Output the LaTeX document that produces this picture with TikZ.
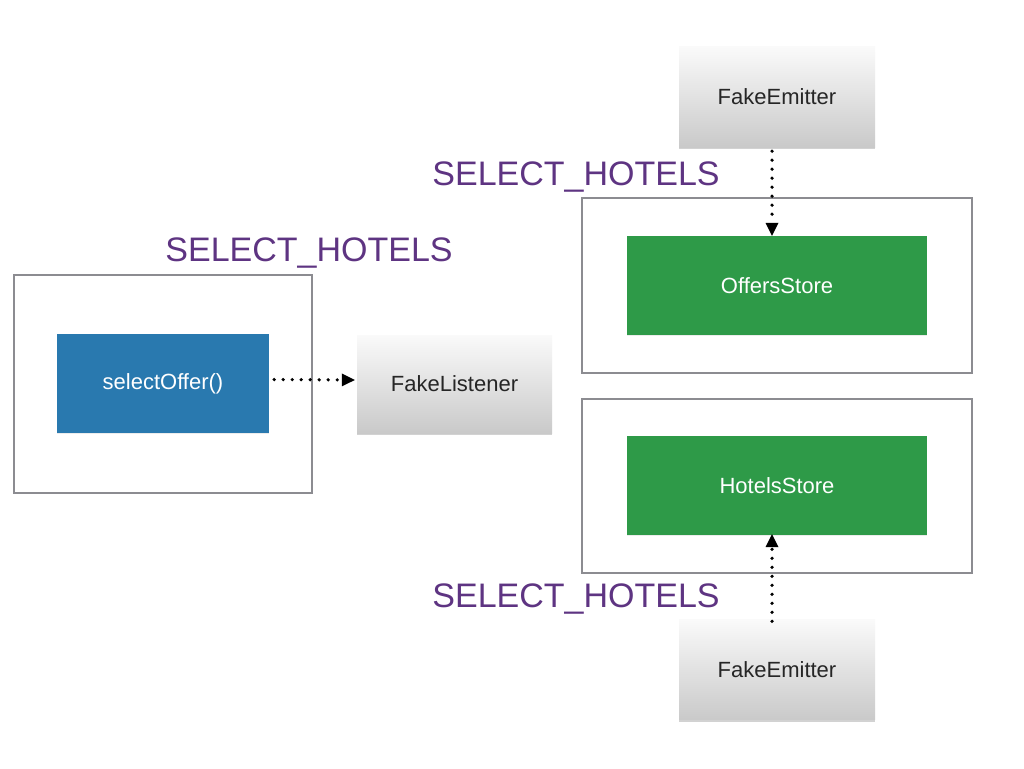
\documentclass[tikz,border=0pt]{standalone}
\usepackage{fontspec}
\setmainfont{Liberation Sans}
\usetikzlibrary{arrows.meta,shadows}
\definecolor{lblpurple}{RGB}{94,52,130}
\definecolor{storegreen}{RGB}{46,154,72}
\definecolor{actblue}{RGB}{41,121,175}
\definecolor{framegray}{RGB}{140,140,145}
\begin{document}
\begin{tikzpicture}[x=1pt,y=-1pt,
  fakebox/.style={minimum width=196pt,minimum height=100pt,inner sep=0pt,
    top color=gray!4,bottom color=gray!42,
    drop shadow={opacity=0.35,shadow xshift=0pt,shadow yshift=-2pt},
    font=\fontsize{22}{26}\selectfont,text=black!85},
  storebox/.style={minimum width=300pt,minimum height=99pt,inner sep=0pt,
    fill=storegreen,text=white,font=\fontsize{22}{26}\selectfont,
    drop shadow={opacity=0.15,shadow xshift=0pt,shadow yshift=-1pt}},
  framebox/.style={draw=framegray,line width=1.6pt,inner sep=0pt},
  lbl/.style={text=lblpurple,font=\fontsize{34}{40}\selectfont,inner sep=0pt},
  flow/.style={line width=3.6pt,dash pattern=on 0pt off 9pt,line cap=round,
    -{Triangle[width=13pt,length=13pt,line width=0pt]}}
]
\useasboundingbox[fill=white] (0,0) rectangle (1024,768);

% frames
\node[framebox,minimum width=390pt,minimum height=175pt] (f1) at (777,285.5) {};
\node[framebox,minimum width=390pt,minimum height=174pt] (f2) at (777,486) {};
\node[framebox,minimum width=298pt,minimum height=218pt] (f3) at (163,384) {};

% boxes
\node[fakebox] (em1) at (777,97) {FakeEmitter};
\node[fakebox] (em2) at (777,669.5) {FakeEmitter};
\node[fakebox,minimum width=195pt,minimum height=98pt] (lis) at (454.5,384) {FakeListener};
\node[storebox] (offers) at (777,285.5) {OffersStore};
\node[storebox] (hotels) at (777,485.5) {HotelsStore};
\node[storebox,fill=actblue,minimum width=212pt] (sel) at (163,383.5) {selectOffer()};

% labels
\node[lbl] (l1) at (576,177) {SELECT\_HOTELS};
\node[lbl] (l2) at (309,253) {SELECT\_HOTELS};
\node[lbl] (l3) at (576,599) {SELECT\_HOTELS};

% connectors
\draw[flow] ([xshift=-5pt,yshift=-4pt]em1.south) -- ([xshift=-5pt]offers.north);
\draw[flow] ([xshift=-5pt,yshift=-2pt]em2.north) -- ([xshift=-5pt,yshift=1pt]hotels.south);
\draw[flow] ([xshift=5pt,yshift=4pt]sel.east) -- ([xshift=-2pt,yshift=4pt]lis.west);
\end{tikzpicture}
\end{document}
